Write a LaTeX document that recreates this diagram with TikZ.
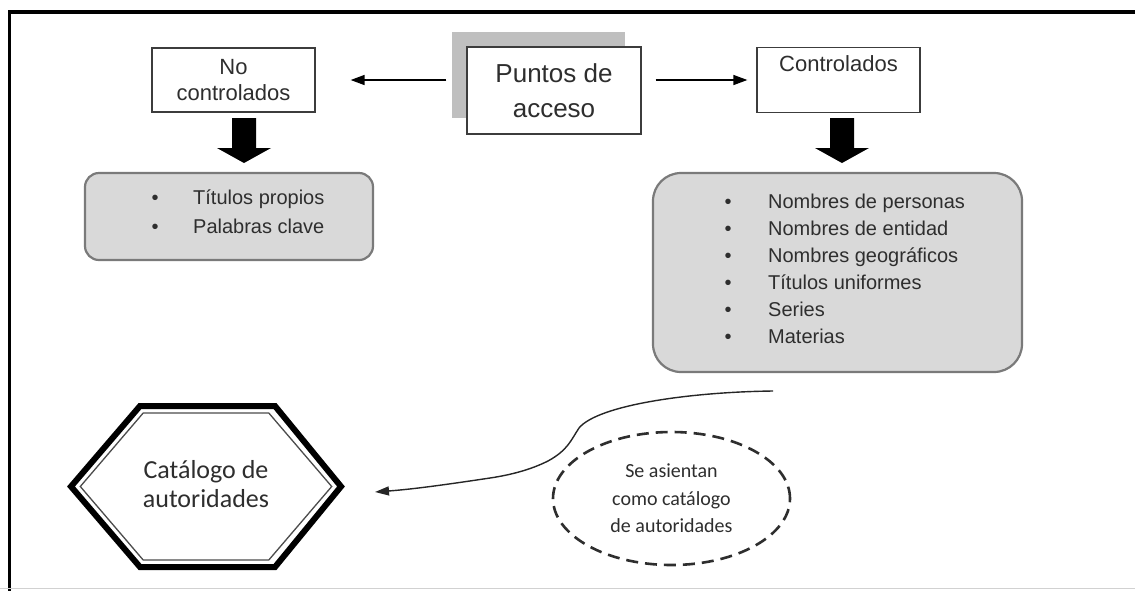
\documentclass[tikz,border=0pt]{standalone}
\usepackage{fontspec}
\setmainfont{Liberation Sans}
\newfontfamily\calib{Carlito}
\usetikzlibrary{arrows.meta,shapes.geometric,calc}
\definecolor{txt}{HTML}{2E2E2E}
\definecolor{boxline}{HTML}{3C3C3C}
\definecolor{listfill}{HTML}{D9D9D9}
\definecolor{listline}{HTML}{7A7A7A}
\definecolor{shadowgrey}{HTML}{BFBFBF}
\begin{document}
\begin{tikzpicture}[x=1pt,y=-1pt,
  plainbox/.style={draw=boxline,line width=1.3pt,fill=white,align=center,text=txt,inner sep=0pt},
  listbox/.style={draw=listline,line width=2.2pt,fill=listfill,inner sep=0pt},
  listtext/.style={inner sep=0pt,text=txt,anchor=north west},
  thinarrow/.style={draw=black,line width=1.5pt,-{Triangle[length=14pt,width=10pt]}},
  blockarrow/.style={fill=black,draw=none},
  note/.style={ellipse,draw=txt,line width=2.6pt,dash pattern=on 12pt off 7pt,inner sep=0pt,
    minimum width=237pt,minimum height=133pt,align=center,text=txt,
    font=\calib\fontsize{20}{27.5}\selectfont},
  frameline/.style={draw=black,line cap=rect}
]
\useasboundingbox (0,0) rectangle (1135,590);
\fill[white] (0,0) rectangle (1135,590);

% frame
\draw[frameline,line width=4pt] (9.5,12) -- (1135,12);
\draw[frameline,line width=3pt] (9.5,12) -- (9.5,590);
\draw[draw=black!18,line width=1.2pt] (0,588.8) -- (1135,588.8);

% top row boxes
\node[plainbox,minimum width=163pt,minimum height=64pt,
  font=\fontsize{22}{26}\selectfont] (nc) at (233.5,80) {No\\controlados};
\fill[shadowgrey] (452,32) rectangle (625,118);
\node[plainbox,minimum width=174pt,minimum height=87pt,
  font=\fontsize{26}{35}\selectfont] (pa) at (554,90.5) {Puntos de\\acceso};
\node[plainbox,minimum width=163pt,minimum height=65pt,
  font=\fontsize{22}{26}\selectfont] (co) at (838.5,80) {Controlados\\\strut};

% thin arrows
\draw[thinarrow] ([xshift=-20pt]pa.west |- nc.east) -- ([xshift=35pt]nc.east);
\draw[thinarrow] ([xshift=14pt]pa.east |- co.west) -- ([xshift=-9pt]co.west);

% list boxes
\node[listbox,rounded corners=14pt,minimum width=288pt,minimum height=87pt] (nl) at (229,216.5) {};
\node[listbox,rounded corners=28pt,minimum width=369pt,minimum height=199pt] (cl) at (837.5,272.5) {};

\node[listtext,font=\fontsize{20}{29}\selectfont] (nlt) at (151.5,184.2) {%
\begin{tabular}{@{}l@{}}
\makebox[41.5pt][l]{\textbullet}Títulos propios\\
\makebox[41.5pt][l]{\textbullet}Palabras clave
\end{tabular}};
\node[listtext,font=\fontsize{20}{27}\selectfont] (clt) at (724.5,189.6) {%
\begin{tabular}{@{}l@{}}
\makebox[43.5pt][l]{\textbullet}Nombres de personas\\
\makebox[43.5pt][l]{\textbullet}Nombres de entidad\\
\makebox[43.5pt][l]{\textbullet}Nombres geográficos\\
\makebox[43.5pt][l]{\textbullet}Títulos uniformes\\
\makebox[43.5pt][l]{\textbullet}Series\\
\makebox[43.5pt][l]{\textbullet}Materias
\end{tabular}};

% block arrows
\fill[blockarrow] (232,118) -- (256,118) -- (256,148) -- (271,148) -- (244,163) -- (217,148) -- (232,148) -- cycle;
\fill[blockarrow] (830,118) -- (854,118) -- (854,148) -- (869,148) -- (842,163) -- (815,148) -- (830,148) -- cycle;

% hexagon
\draw[black,line width=6pt,line join=miter] (71,486.5) -- (140,406) -- (275,406) -- (341,486.5) -- (275,567) -- (140,567) -- cycle;
\draw[black!70,line width=1.3pt,line join=miter] (80.3,486.5) -- (143.2,413) -- (268.8,413) -- (331.7,486.5) -- (268.8,560) -- (143.2,560) -- cycle;
\node[align=center,text=txt,inner sep=0pt,font=\calib\fontsize{26}{29}\selectfont] (cat) at (206,484) {Catálogo de\\autoridades};

% note ellipse
\node[note] (se) at (671.5,498.5) {Se asientan\\como catálogo\\de autoridades};

% curved arrow
\coordinate (cstart) at (773,391);
\coordinate (catin) at (375,492);
\draw[draw=black!85,line width=1.4pt,-{Triangle[length=14pt,width=9pt]}]
  (cstart) .. controls (690,392) and (598,405) .. (579,428)
  .. controls (571,440) and (568,450) .. (548,461)
  .. controls (530,470) and (510,475) .. (490,478)
  .. controls (450,484) and (415,489) .. (catin);
\end{tikzpicture}
\end{document}
